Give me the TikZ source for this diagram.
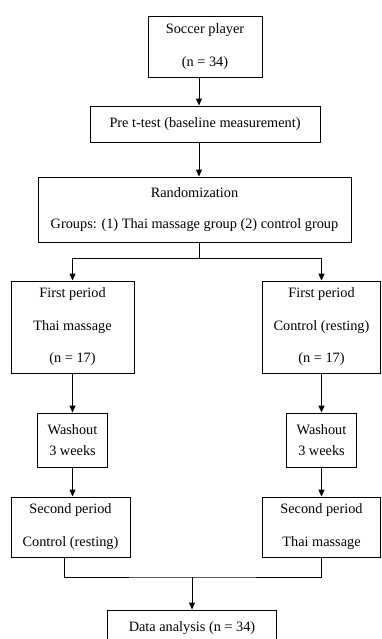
\documentclass[tikz,border=0pt]{standalone}
\usepackage{fontspec}
\setmainfont{Liberation Serif}
\usetikzlibrary{arrows.meta}
\begin{document}
\begin{tikzpicture}[x=1pt, y=-1pt, line width=0.9pt, font=\fontsize{14.3}{16}\selectfont]
	\tikzstyle{box} = [rectangle, draw, align=center, inner sep=0pt, text centered]
	\tikzstyle{arr} = [-{Triangle[length=7pt, width=6pt]}, line width=1pt]

	\useasboundingbox (0, 0) rectangle (382, 639);

	\node[box, minimum width=114pt, minimum height=61pt] (soccer) at (205, 46.5) {Soccer player\\[17pt](n = 34)};
	\node[box, minimum width=230pt, minimum height=36pt] (pre) at (205, 124) {Pre t-test (baseline measurement)};
	\node[box, minimum width=313pt, minimum height=65pt] (rand) at (194.5, 209.5) {Randomization\\[15pt]Groups: (1) Thai massage group (2) control group};

	% two branches of the crossover
	\foreach \side/\cx/\fw/\sx/\sw/\first/\second in {1/72.5/123/70.5/119/{Thai massage}/{Control (resting)}, 2/321.5/118/321.5/118/{Control (resting)}/{Thai massage}} {
		\node[box, minimum width=\fw pt, minimum height=92pt] (first-\side) at (\cx, 327) {First period\\[16.5pt]\first\\[16.5pt](n = 17)};
		\node[box, minimum width=70pt, minimum height=54pt] (wash-\side) at (\cx, 440) {Washout\\[5pt]3 weeks};
		\node[box, minimum width=\sw pt, minimum height=60pt] (second-\side) at (\sx, 527) {Second period\\[17pt]\second};
		\draw[arr] (first-\side) -- (wash-\side);
		\draw[arr] (wash-\side.south) -- (wash-\side.south |- second-\side.north);
	}

	\node[box, minimum width=169pt, minimum height=36pt] (data) at (192, 628) {Data analysis (n = 34)};

	\coordinate (split) at (199, 258);
	\coordinate (join) at (192, 577);

	\draw[arr] ([xshift=-6pt]soccer.south) -- ([xshift=-6pt]soccer.south |- pre.north);
	\draw[arr] ([xshift=-6pt]pre.south) -- ([xshift=-6pt]pre.south |- rand.north);
	\draw (rand.south -| split) -- (split);
	\draw[arr] (split) -| (first-1.north);
	\draw[arr] (split) -| (first-2.north);

	\draw ([xshift=-6.5pt]second-1.south) |- (join) -| (second-2.south);
	\draw[arr] (join) -- (data.north);
\end{tikzpicture}
\end{document}
